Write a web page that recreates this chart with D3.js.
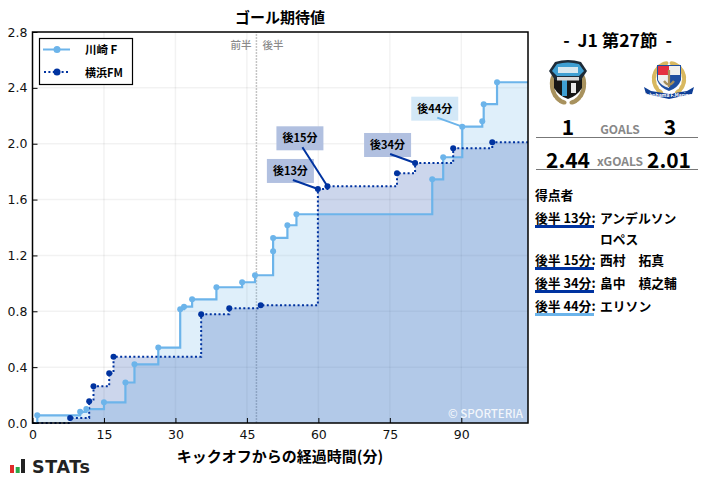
<!DOCTYPE html>
<html>
<head>
<meta charset="utf-8">
<script src="https://cdn.jsdelivr.net/npm/d3@7"></script>
<style>
  html, body { margin: 0; padding: 0; background: #fff; }
  svg { display: block; }
  text { font-family: "Noto Sans CJK JP", "Noto Sans", sans-serif; }
</style>
</head>
<body>
<div id="chart"></div>
<script>
"use strict";

const kawasakiMinutes = [1.0, 10.0, 11.3, 15.0, 19.5, 21.4, 26.4, 31.0, 31.8, 33.5, 38.6, 44.0, 46.7, 50.5, 50.5, 53.5, 55.4, 83.9, 86.2, 90.2, 94.4, 94.7, 97.5];
const kawasakiValues = [0.055, 0.08, 0.10, 0.148, 0.29, 0.42, 0.54, 0.815, 0.833, 0.886, 0.972, 1.008, 1.058, 1.23, 1.325, 1.416, 1.495, 1.745, 1.903, 2.122, 2.16, 2.283, 2.44];
const marinosMinutes = [7.9, 11.9, 12.8, 16.1, 17.0, 35.4, 41.3, 47.9, 59.9, 61.9, 76.5, 80.3, 88.3, 96.5];
const marinosValues = [0.036, 0.155, 0.263, 0.356, 0.475, 0.779, 0.822, 0.843, 1.676, 1.695, 1.788, 1.862, 1.968, 2.01];

const xTicks = [0, 15, 30, 45, 60, 75, 90];
const yTicks = [0, 0.4, 0.8, 1.2, 1.6, 2.0, 2.4, 2.8];

const goalLabels = ["後13分", "後15分", "後34分", "後44分"];
const goalMinutes = [59.9, 61.9, 80.3, 90.2];
const goalValues = [1.676, 1.695, 1.862, 2.122];
const goalTeams = ["m", "m", "m", "k"];

const scorerTimes = ["後半 13分:", "後半 15分:", "後半 34分:", "後半 44分:"];
const scorerNames = ["アンデルソン", "西村　拓真", "畠中　槙之輔", "エリソン"];

const lightBlue = "#6cb4ea";
const darkBlue = "#0033a0";

const W = 707, H = 479;
const margin = { top: 32, right: 179, bottom: 56, left: 32.5 };

const svg = d3.select("#chart").append("svg")
  .attr("width", W)
  .attr("height", H)
  .attr("viewBox", `0 0 ${W} ${H}`);

const x = d3.scaleLinear().domain([0, 104]).range([margin.left, W - margin.right]);
const y = d3.scaleLinear().domain([0, 2.8]).range([H - margin.bottom, margin.top]);

// start at zero and run flat to the right edge, like steps-post
const makeSeries = (mins, vals) => {
  const pts = [[0, 0]];
  mins.forEach((m, i) => pts.push([m, vals[i]]));
  pts.push([104, vals[vals.length - 1]]);
  return pts;
};
const kawasaki = makeSeries(kawasakiMinutes, kawasakiValues);
const marinos = makeSeries(marinosMinutes, marinosValues);

const line = d3.line().x(d => x(d[0])).y(d => y(d[1])).curve(d3.curveStepAfter);
const area = d3.area().x(d => x(d[0])).y0(y(0)).y1(d => y(d[1])).curve(d3.curveStepAfter);

// grid
svg.append("g").selectAll("line").data(xTicks.slice(1)).join("line")
  .attr("x1", d => x(d)).attr("x2", d => x(d))
  .attr("y1", y(0)).attr("y2", y(2.8))
  .attr("stroke", "#000").attr("stroke-opacity", 0.05).attr("stroke-width", 1.5);
svg.append("g").selectAll("line").data(yTicks.slice(1, -1)).join("line")
  .attr("x1", x(0)).attr("x2", x(104))
  .attr("y1", d => y(d)).attr("y2", d => y(d))
  .attr("stroke", "#000").attr("stroke-opacity", 0.05).attr("stroke-width", 1.5);

// half time
svg.append("line")
  .attr("x1", x(47)).attr("x2", x(47))
  .attr("y1", y(0)).attr("y2", y(2.8))
  .attr("stroke", "#c4c4c4").attr("stroke-width", 1.5).attr("stroke-dasharray", "2,1");
svg.append("text").attr("x", x(47) - 5).attr("y", 49).attr("text-anchor", "end")
  .attr("font-size", 10.5).attr("font-weight", 500).attr("fill", "#8a8a8a").text("前半");
svg.append("text").attr("x", x(47) + 6).attr("y", 49)
  .attr("font-size", 10.5).attr("font-weight", 500).attr("fill", "#8a8a8a").text("後半");

// fills
svg.append("path").datum(kawasaki).attr("d", area).attr("fill", lightBlue).attr("fill-opacity", 0.22);
svg.append("path").datum(marinos).attr("d", area).attr("fill", darkBlue).attr("fill-opacity", 0.2);

// lines
svg.append("path").datum(kawasaki).attr("d", line)
  .attr("fill", "none").attr("stroke", lightBlue).attr("stroke-width", 2.2);
svg.append("path").datum(marinos).attr("d", line)
  .attr("fill", "none").attr("stroke", darkBlue).attr("stroke-width", 2).attr("stroke-dasharray", "2,2.4");

// goal callouts
const callDx = -25;
const callDy = [-9, -39, -9, -9];
const boxW = 47, boxH = 24;
const calls = svg.append("g").selectAll("g").data(goalLabels).join("g");
calls.append("rect")
  .attr("x", (d, i) => x(goalMinutes[i]) + callDx - 2.5 - boxW / 2)
  .attr("y", (d, i) => y(goalValues[i]) + callDy[i] + 3 - boxH)
  .attr("width", boxW).attr("height", boxH)
  .attr("fill", (d, i) => goalTeams[i] === "k" ? "#d3e8f7" : "#b1c0e0");
calls.append("text")
  .attr("x", (d, i) => x(goalMinutes[i]) + callDx - 2.5)
  .attr("y", (d, i) => y(goalValues[i]) + callDy[i] + 3 - boxH / 2 + 4)
  .attr("text-anchor", "middle")
  .attr("font-size", 11).attr("font-weight", 700).attr("fill", "#000")
  .text(d => d);
calls.append("line")
  .attr("x1", (d, i) => x(goalMinutes[i]) + callDx)
  .attr("y1", (d, i) => y(goalValues[i]) + callDy[i])
  .attr("x2", (d, i) => x(goalMinutes[i]))
  .attr("y2", (d, i) => y(goalValues[i]))
  .attr("stroke", (d, i) => goalTeams[i] === "k" ? lightBlue : darkBlue)
  .attr("stroke-width", 2);

// markers
svg.append("g").selectAll("circle").data(kawasaki.slice(1, -1)).join("circle")
  .attr("cx", d => x(d[0])).attr("cy", d => y(d[1])).attr("r", 3).attr("fill", lightBlue);
svg.append("g").selectAll("circle").data(marinos.slice(1, -1)).join("circle")
  .attr("cx", d => x(d[0])).attr("cy", d => y(d[1])).attr("r", 3).attr("fill", darkBlue);

// copyright
svg.append("text").attr("x", x(104) - 5).attr("y", y(0) - 5).attr("text-anchor", "end")
  .attr("font-size", 11.5).attr("font-weight", 500).attr("fill", "#fff").attr("fill-opacity", 0.85)
  .text("© SPORTERIA");

// frame + axes
svg.append("rect")
  .attr("x", x(0)).attr("y", y(2.8))
  .attr("width", x(104) - x(0)).attr("height", y(0) - y(2.8))
  .attr("fill", "none").attr("stroke", "#000").attr("stroke-width", 1.5);

const xAxis = svg.append("g").attr("transform", `translate(0,${y(0)})`)
  .call(d3.axisBottom(x).tickValues(xTicks).tickSize(-5).tickPadding(7).tickFormat(d3.format("d")));
const yAxis = svg.append("g").attr("transform", `translate(${x(0)},0)`)
  .call(d3.axisLeft(y).tickValues(yTicks).tickSize(-5).tickPadding(5).tickFormat(d3.format(".1f")));
[xAxis, yAxis].forEach(a => {
  a.select(".domain").remove();
  a.selectAll("text").style("font-family", "'DejaVu Sans'").attr("font-size", 12.5).attr("fill", "#111");
  a.selectAll("line").attr("stroke", "#000");
});

// titles
svg.append("text").attr("x", 280).attr("y", 22.5).attr("text-anchor", "middle")
  .attr("font-size", 15).attr("font-weight", 700).text("ゴール期待値");
svg.append("text").attr("x", 280).attr("y", 462).attr("text-anchor", "middle")
  .attr("font-size", 15).attr("font-weight", 700).text("キックオフからの経過時間(分)");

// legend
const legend = svg.append("g");
legend.append("rect").attr("x", 39.5).attr("y", 38.5).attr("width", 93).attr("height", 46)
  .attr("fill", "#fff").attr("stroke", "#000").attr("stroke-width", 1.2);
legend.append("line").attr("x1", 43).attr("x2", 70).attr("y1", 49.5).attr("y2", 49.5)
  .attr("stroke", lightBlue).attr("stroke-width", 2);
legend.append("circle").attr("cx", 57).attr("cy", 49.5).attr("r", 3.5).attr("fill", lightBlue);
legend.append("line").attr("x1", 44).attr("x2", 70).attr("y1", 72).attr("y2", 72)
  .attr("stroke", darkBlue).attr("stroke-width", 2).attr("stroke-dasharray", "2,2.4");
legend.append("circle").attr("cx", 57).attr("cy", 72).attr("r", 3.5).attr("fill", darkBlue);
legend.append("text").attr("x", 85).attr("y", 54).attr("font-size", 11.5).attr("font-weight", 700).text("川崎 F");
legend.append("text").attr("x", 85).attr("y", 77).attr("font-size", 11).attr("font-weight", 700).text("横浜FM");

// STATs logo
const logo = svg.append("g");
logo.append("rect").attr("x", 10).attr("y", 465).attr("width", 4).attr("height", 8).attr("fill", "#e02b2b");
logo.append("rect").attr("x", 15.7).attr("y", 467).attr("width", 4).attr("height", 6).attr("fill", "#2aa84a");
logo.append("rect").attr("x", 21).attr("y", 459).attr("width", 4).attr("height", 14).attr("fill", "#222");
logo.append("text").attr("x", 32).attr("y", 473)
  .style("font-family", "'DejaVu Sans'").attr("font-size", 17.5).attr("font-weight", 700).attr("fill", "#222")
  .attr("textLength", 58).attr("lengthAdjust", "spacing")
  .text("STATs");

// right panel
const panel = svg.append("g");
panel.append("text").attr("x", 617.5).attr("y", 47).attr("text-anchor", "middle")
  .attr("font-size", 17.5).attr("font-weight", 700).attr("xml:space", "preserve").text("-  J1 第27節  -");

// wreath leaves for both crests, t is the angle in half turns
const wreath = (g, rx, ry, cy, t0, t1, fill) => {
  d3.range(t0, t1, (t1 - t0) / 7).forEach(t => {
    [-1, 1].forEach(s => {
      const a = t * Math.PI;
      g.append("ellipse")
        .attr("rx", 4.2).attr("ry", 2.2)
        .attr("fill", fill)
        .attr("transform", `translate(${s * rx * Math.cos(a)},${cy + ry * Math.sin(a)}) rotate(${s * (t * 180 + 90)})`);
    });
  });
};

const frontale = panel.append("g").attr("transform", "translate(568,82)");
wreath(frontale, 16, 19, 2, -0.1, 0.47, "#a8925e");
frontale.append("path").attr("d", "M-14,-4 L14,-4 L14,6 Q9,14 0,17 Q-9,14 -14,6 Z").attr("fill", "#161616");
frontale.append("rect").attr("x", -6).attr("y", -3).attr("width", 5).attr("height", 17).attr("fill", "#3f9fd2");
frontale.append("rect").attr("x", 3).attr("y", 1).attr("width", 5).attr("height", 10).attr("fill", "#e8e8e8");
frontale.append("path").attr("d", "M-13,-20 Q0,-24 13,-20 L19,-11 L13,-2 L-13,-2 L-19,-11 Z").attr("fill", "#1d2b38");
frontale.append("path").attr("d", "M-11,-18 Q0,-21 11,-18 L16,-11 L11,-6 L-11,-6 L-16,-11 Z").attr("fill", "#3f9fd2");
frontale.append("rect").attr("x", -10).attr("y", -15).attr("width", 20).attr("height", 6).attr("fill", "#f4f4f4").attr("fill-opacity", 0.85);
frontale.append("rect").attr("x", -11).attr("y", -5).attr("width", 22).attr("height", 3.5).attr("fill", "#d8d8d8");

const marinosCrest = panel.append("g").attr("transform", "translate(669,82)");
wreath(marinosCrest, 15, 16, -3, -0.4, 0.4, "#d8b860");
marinosCrest.append("path").attr("d", "M-12,-17 L12,-17 L12,-2 Q9,6 0,9 Q-9,6 -12,-2 Z").attr("fill", "#1f4fa0");
marinosCrest.append("path").attr("d", "M-11,-16 L0,-16 L0,-7 L-11,-7 Z").attr("fill", "#e53040");
marinosCrest.append("path").attr("d", "M0,-16 L11,-16 L11,-7 L0,-7 Z").attr("fill", "#f0f0ee");
marinosCrest.append("path").attr("d", "M-11,-7 L0,-7 L0,6 Q-8,4 -11,-2 Z").attr("fill", "#f0f0ee");
marinosCrest.append("path").attr("d", "M0,-12 L0,5 M-5,-1 Q0,6 5,-1").attr("stroke", "#a8905a").attr("stroke-width", 2.2).attr("fill", "none");
marinosCrest.append("path").attr("d", "M-25,5 L-18,9 L0,12 L18,9 L25,5 L23,12 L0,17 L-23,12 Z").attr("fill", "#0f3f96");
marinosCrest.append("text").attr("y", 14.5).attr("text-anchor", "middle").attr("font-size", 5).attr("font-weight", 700).attr("fill", "#fff").text("Yokohama F.Marinos");

panel.append("text").attr("x", 568).attr("y", 135).attr("text-anchor", "middle").attr("font-size", 21).attr("font-weight", 700).text("1");
panel.append("text").attr("x", 620).attr("y", 134).attr("text-anchor", "middle").attr("font-size", 12).attr("font-weight", 700).attr("fill", "#888").text("GOALS");
panel.append("text").attr("x", 670).attr("y", 135).attr("text-anchor", "middle").attr("font-size", 21).attr("font-weight", 700).text("3");
panel.append("line").attr("x1", 536).attr("x2", 698).attr("y1", 137.5).attr("y2", 137.5).attr("stroke", "#777");
panel.append("text").attr("x", 568).attr("y", 167.5).attr("text-anchor", "middle").attr("font-size", 21).attr("font-weight", 700).text("2.44");
panel.append("text").attr("x", 620).attr("y", 166).attr("text-anchor", "middle").attr("font-size", 12).attr("font-weight", 700).attr("fill", "#888").text("xGOALS");
panel.append("text").attr("x", 669).attr("y", 167.5).attr("text-anchor", "middle").attr("font-size", 21).attr("font-weight", 700).text("2.01");
panel.append("line").attr("x1", 536).attr("x2", 698).attr("y1", 169.5).attr("y2", 169.5).attr("stroke", "#777");

panel.append("text").attr("x", 535).attr("y", 199.5).attr("font-size", 12.8).attr("font-weight", 700).text("得点者");

const scorerY = [223, 265, 288, 311];
scorerTimes.forEach((t, i) => {
  panel.append("text").attr("x", 535).attr("y", scorerY[i]).attr("font-size", 12.8).attr("font-weight", 700).text(t);
  panel.append("text").attr("x", 600).attr("y", scorerY[i]).attr("font-size", 12.8).attr("font-weight", 700).text(scorerNames[i]);
  panel.append("rect").attr("x", 535).attr("y", scorerY[i] + 2).attr("width", 59).attr("height", 3)
    .attr("fill", goalTeams[i] === "k" ? lightBlue : darkBlue);
});
panel.append("text").attr("x", 600).attr("y", 244).attr("font-size", 12.8).attr("font-weight", 700).text("ロペス");
</script>
</body>
</html>
